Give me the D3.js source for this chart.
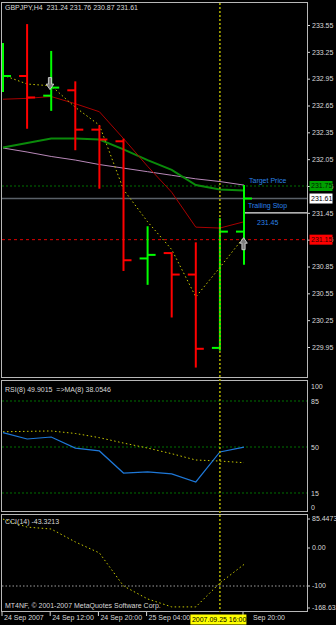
<!DOCTYPE html>
<html><head><meta charset="utf-8">
<script src="https://cdn.jsdelivr.net/npm/d3@7/dist/d3.min.js"></script>
<style>
html,body{margin:0;padding:0;background:#000;}
svg{display:block;}
text{font-family:"Liberation Sans",Arial,sans-serif;font-size:7px;}
</style></head>
<body>
<svg id="c" width="336" height="625"></svg>
<script>
// ---------- data ----------
const symbolTitle = "GBPJPY,H4  231.24 231.76 230.87 231.61";
const timeLabels = ["24 Sep 2007","24 Sep 12:00","24 Sep 20:00","25 Sep 04:00","Sep 20:00"];
const timeLabelBars = [0,2,4,6,10];
const open  = [232.90,232.98,232.76,232.82,232.38,232.25,230.94,231.00,230.76,229.94,231.24];
const high  = [233.35,233.56,233.26,232.92,232.43,232.28,231.30,231.01,231.12,231.39,231.76];
const low   = [232.80,232.39,232.59,232.15,231.72,230.80,230.645,230.28,229.72,229.91,230.87];
const close = [232.98,232.74,232.85,232.38,232.27,230.92,230.98,230.76,229.93,231.24,231.61];
const maYellow = [232.99,232.89,232.87,232.63,232.43,231.71,231.35,231.04,230.51,230.84,231.18];
const maRed    = [232.72,232.73,232.75,232.67,232.58,232.28,231.97,231.68,231.29,231.28,231.35];
const maGreen  = [232.18,232.23,232.28,232.28,232.27,232.16,232.04,231.93,231.76,231.71,231.70];
const maPink   = [232.175,232.13,232.08,232.04,231.99,231.95,231.91,231.87,231.83,231.80,231.76];
const priceTicks = [233.55,233.25,232.95,232.65,232.35,232.05,231.75,231.45,231.15,230.85,230.55,230.25,229.95];
const targetPrice = 231.75, bidPrice = 231.61, trailingStop = 231.45, stopPrice = 231.15;
const signals = [{bar:1.95, price:232.895, dir:"down"},{bar:9.98, price:231.105, dir:"up"}];
const rsi   = [60.9,56.1,57.6,49.2,47.0,30.2,31.0,29.5,23.4,46.2,49.9015];
const rsiMa = [61.6,61.9,62.2,60.3,57.1,53.0,49.2,44.9,40.1,39.3,38.0546];
const rsiTicks = [100,85,50,15,0];
const rsiLevels = [85,50,15];
const cci = [76,55,50,16,-13,-100,-134,-155,-155,-92,-43.3213];
const cciTicks = [85.4473,0,-100,-168.632];
const cciTickLabels = ["85.4473","0.00","-100","-168.632"];
const cursorBar = 9, cursorLabel = "2007.09.25 16:00";

// ---------- layout ----------
const L = 2, R = 307;
const main = {top:2, bottom:378};
const rsiP = {top:380, bottom:512};
const cciP = {top:514, bottom:612};
const svg = d3.select("#c");
const TXT = "#d8d8d8", FRAME = "#b8b8b8";

const x = d3.scaleLinear().domain([0,10]).range([3,244]);
const y = d3.scaleLinear().domain([229.95,233.55]).range([347,25]);
const yR = d3.scaleLinear().domain([0,100]).range([512.7,381.3]);
const yC = d3.scaleLinear().domain([-100,0]).range([586,548]);
const idx = d3.range(open.length);

const defs = svg.append("defs");
[["cm",main],["cr",rsiP],["cc",cciP]].forEach(([id,p])=>{
  defs.append("clipPath").attr("id",id).append("rect")
    .attr("x",L).attr("y",p.top).attr("width",R-L).attr("height",p.bottom-p.top);
});

// ---------- main panel ----------
const gm = svg.append("g").attr("clip-path","url(#cm)");
gm.append("line").attr("x1",L).attr("x2",R).attr("y1",y(targetPrice)).attr("y2",y(targetPrice))
  .attr("stroke","#007000").attr("stroke-width",1).attr("stroke-dasharray","2,2");
gm.append("line").attr("x1",L).attr("x2",R).attr("y1",y(bidPrice)).attr("y2",y(bidPrice))
  .attr("stroke","#5a6068").attr("stroke-width",1.3);
gm.append("line").attr("x1",L).attr("x2",R).attr("y1",y(stopPrice)).attr("y2",y(stopPrice))
  .attr("stroke","#e00000").attr("stroke-width",1).attr("stroke-dasharray","3,3");
gm.append("line").attr("x1",x(10)).attr("x2",R).attr("y1",y(trailingStop)).attr("y2",y(trailingStop))
  .attr("stroke","#e8e8e8").attr("stroke-width",1.3);

const line = arr => d3.line().x((d,i)=>x(i)).y(d=>y(d))(arr);
gm.append("path").attr("d",line(maPink)).attr("fill","none").attr("stroke","#b888b8").attr("stroke-width",1);
gm.append("path").attr("d",line(maGreen)).attr("fill","none").attr("stroke","#0a8a0a").attr("stroke-width",2);
gm.append("path").attr("d",line(maRed)).attr("fill","none").attr("stroke","#a80000").attr("stroke-width",1);
gm.append("path").attr("d",line(maYellow)).attr("fill","none").attr("stroke","#c8c800").attr("stroke-width",1).attr("stroke-dasharray","1.5,2.5");

const bars = gm.selectAll("g.bar").data(idx).enter().append("g")
  .attr("stroke",i=>close[i]>=open[i]?"#00ff00":"#ff0000").attr("stroke-width",2);
bars.append("line").attr("x1",i=>x(i)).attr("x2",i=>x(i)).attr("y1",i=>y(high[i])).attr("y2",i=>y(low[i]));
bars.append("line").attr("x1",i=>x(i)-8).attr("x2",i=>x(i)).attr("y1",i=>y(open[i])).attr("y2",i=>y(open[i]));
bars.append("line").attr("x1",i=>x(i)).attr("x2",i=>x(i)+8).attr("y1",i=>y(close[i])).attr("y2",i=>y(close[i]));

signals.forEach(s=>{
  const cx = x(s.bar), cy = y(s.price), k = s.dir==="up"?1:-1;
  const pts = [[0,-6],[3.8,-0.5],[1.6,-0.5],[1.6,6],[-1.6,6],[-1.6,-0.5],[-3.8,-0.5]]
    .map(p=>[cx+p[0], cy+k*p[1]]);
  gm.append("polygon").attr("points",pts.map(p=>p.join(",")).join(" "))
    .attr("fill","#7c7c7c").attr("stroke","#d4d4d4").attr("stroke-width",0.9);
});

const blue = "#2a82e8";
gm.append("text").attr("x",249).attr("y",y(targetPrice)-5.5).attr("dy","0.35em").attr("fill",blue).text("Target Price");
gm.append("text").attr("x",248).attr("y",y(trailingStop)-7.5).attr("dy","0.35em").attr("fill",blue).text("Trailing Stop");
gm.append("text").attr("x",257).attr("y",y(trailingStop)+9.5).attr("dy","0.35em").attr("fill",blue).text(trailingStop.toFixed(2));

svg.append("text").attr("x",5).attr("y",10).attr("fill",TXT).attr("xml:space","preserve").text(symbolTitle);

const ax = svg.append("g").attr("transform",`translate(${R},0)`)
  .call(d3.axisRight(y).tickValues(priceTicks).tickSize(3).tickPadding(2).tickFormat(d3.format(".2f")));
ax.select(".domain").remove();
ax.selectAll("line").attr("stroke",TXT);
ax.selectAll("text").attr("fill",TXT).style("font-family","Liberation Sans, Arial").style("font-size","7px");

[[targetPrice,"#00a000","#002000"],[bidPrice,"#ffffff","#000000"],[stopPrice,"#ff0000","#300000"]].forEach(([p,bg,fg])=>{
  svg.append("rect").attr("x",309.5).attr("y",y(p)-5).attr("width",23).attr("height",10).attr("fill",bg);
  svg.append("text").attr("x",311).attr("y",y(p)).attr("dy","0.35em").attr("fill",fg).text(p.toFixed(2));
});

// ---------- RSI panel ----------
const gr = svg.append("g").attr("clip-path","url(#cr)");
rsiLevels.forEach(v=>gr.append("line").attr("x1",L).attr("x2",R).attr("y1",yR(v)).attr("y2",yR(v))
  .attr("stroke","#007000").attr("stroke-dasharray","2,2"));
gr.append("path").attr("d",d3.line().x((d,i)=>x(i)).y(d=>yR(d))(rsiMa)).attr("fill","none")
  .attr("stroke","#c8c800").attr("stroke-dasharray","1.5,2.5");
gr.append("path").attr("d",d3.line().x((d,i)=>x(i)).y(d=>yR(d))(rsi)).attr("fill","none")
  .attr("stroke","#1e78d8").attr("stroke-width",1.2);
svg.append("text").attr("x",5).attr("y",392).attr("fill",TXT).attr("xml:space","preserve").text("RSI(8) 49.9015  =>MA(8) 38.0546");
const axr = svg.append("g").attr("transform",`translate(${R},0)`)
  .call(d3.axisRight(yR).tickValues(rsiTicks).tickSize(0).tickPadding(4).tickFormat(d3.format("d")));
axr.select(".domain").remove();
axr.selectAll("text").attr("fill",TXT).style("font-family","Liberation Sans, Arial").style("font-size","7px")
  .attr("y",d=>d===100?5:(d===0?-5:0));

// ---------- CCI panel ----------
const gc = svg.append("g").attr("clip-path","url(#cc)");
gc.append("line").attr("x1",L).attr("x2",R).attr("y1",yC(-100)).attr("y2",yC(-100))
  .attr("stroke","#a0a0a0").attr("stroke-dasharray","1.5,2");
gc.append("path").attr("d",d3.line().x((d,i)=>x(i)).y(d=>yC(d))(cci)).attr("fill","none")
  .attr("stroke","#c8c800").attr("stroke-dasharray","1.5,2.5");
svg.append("text").attr("x",5).attr("y",524).attr("fill",TXT).text("CCI(14) -43.3213");
svg.append("text").attr("x",5).attr("y",608).attr("fill",TXT).text("MT4NF, © 2001-2007 MetaQuotes Software Corp.");
const axc = svg.append("g").attr("transform",`translate(${R},0)`)
  .call(d3.axisRight(yC).tickValues(cciTicks).tickSize(3).tickPadding(2).tickFormat((d,i)=>cciTickLabels[i]));
axc.select(".domain").remove();
axc.selectAll("line").attr("stroke",TXT);
axc.selectAll("text").attr("fill",TXT).style("font-family","Liberation Sans, Arial").style("font-size","7px");
axc.selectAll(".tick").attr("transform",(d)=>{
  let py = yC(d); if(py<cciP.top+5) py=cciP.top+5; if(py>cciP.bottom-4) py=cciP.bottom-4; return `translate(0,${py})`;});

// ---------- frames ----------
[main,rsiP,cciP].forEach(p=>svg.append("rect").attr("x",L-0.5).attr("y",p.top+0.5)
  .attr("width",R-L+1).attr("height",p.bottom-p.top-1).attr("fill","none").attr("stroke",FRAME).attr("stroke-width",1));

// ---------- time axis ----------
const axt = svg.append("g").attr("transform",`translate(0,${cciP.bottom})`)
  .call(d3.axisBottom(x).tickValues(timeLabelBars).tickSize(4).tickPadding(0).tickFormat((d,i)=>timeLabels[i]));
axt.select(".domain").remove();
axt.selectAll(".tick").attr("transform",d=>`translate(${x(d)-1},0)`);
axt.selectAll("line").attr("stroke",TXT);
axt.selectAll("text").attr("fill",TXT).attr("text-anchor","start").attr("x",(d)=>d===10?10:2).attr("y",3.5)
  .attr("dy","0.71em").style("font-family","Liberation Sans, Arial").style("font-size","7px");

// crosshair
const cxp = x(cursorBar);
svg.append("line").attr("x1",cxp).attr("x2",cxp).attr("y1",main.top+1).attr("y2",cciP.bottom)
  .attr("stroke","#a8a800").attr("stroke-width",1.6).attr("stroke-dasharray","2,2");
svg.append("rect").attr("x",cxp-29.5).attr("y",614.5).attr("width",56).attr("height",10).attr("fill","#ffff00");
svg.append("text").attr("x",cxp-28).attr("y",619.5).attr("dy","0.35em").attr("fill","#000").text(cursorLabel);
</script>
</body></html>
